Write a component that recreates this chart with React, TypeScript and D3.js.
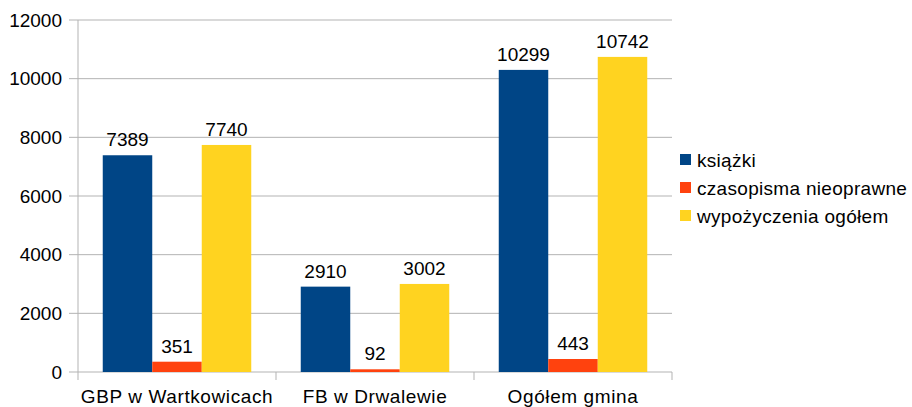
import { useEffect, useRef } from "react";
import * as d3 from "d3";

const categories = ["GBP w Wartkowicach", "FB w Drwalewie", "Ogółem gmina"];
const seriesNames = ["książki", "czasopisma nieoprawne", "wypożyczenia ogółem"];
const ksiazki = [7389, 2910, 10299];
const czasopisma = [351, 92, 443];
const wypozyczenia = [7740, 3002, 10742];
const yTicks = [0, 2000, 4000, 6000, 8000, 10000, 12000];
const colors = ["#004586", "#ff420e", "#ffd320"];

const App = () => {
  const svgRef = useRef<SVGSVGElement>(null);

  useEffect(() => {
    if (!svgRef.current) return;
    const svg = d3.select(svgRef.current);
    svg.selectAll("*").remove();

    const font = "'Liberation Sans', Arial, sans-serif";
    const left = 78;
    const right = 672;
    const top = 20;
    const bottom = 372;
    const series = [ksiazki, czasopisma, wypozyczenia];

    const y = d3.scaleLinear().domain([0, 12000]).range([bottom, top]);
    const x = d3.scaleBand().domain(categories).range([left, right]);
    const inner = d3
      .scaleBand()
      .domain(seriesNames)
      .range([0, x.bandwidth()])
      .paddingOuter(0.5);

    // gridlines + y labels
    yTicks.forEach((t) => {
      svg
        .append("line")
        .attr("x1", left - 9)
        .attr("x2", right)
        .attr("y1", y(t))
        .attr("y2", y(t))
        .attr("stroke", "#b3b3b3")
        .attr("stroke-width", 1);
      svg
        .append("text")
        .attr("x", left - 16)
        .attr("y", y(t))
        .attr("dy", "0.35em")
        .attr("text-anchor", "end")
        .attr("font-family", font)
        .attr("font-size", 19)
        .attr("fill", "#000")
        .text(t);
    });

    // y axis line
    svg
      .append("line")
      .attr("x1", left)
      .attr("x2", left)
      .attr("y1", top)
      .attr("y2", bottom + 8)
      .attr("stroke", "#b3b3b3");

    // category ticks
    const edges = categories.map((c) => x(c)!).concat([right]);
    edges.forEach((e, i) => {
      if (i === 0) return;
      svg
        .append("line")
        .attr("x1", e)
        .attr("x2", e)
        .attr("y1", bottom)
        .attr("y2", bottom + 8)
        .attr("stroke", "#b3b3b3");
    });

    // bars
    categories.forEach((c, ci) => {
      series.forEach((s, si) => {
        const bx = x(c)! + inner(seriesNames[si])!;
        const v = s[ci];
        svg
          .append("rect")
          .attr("x", bx)
          .attr("y", y(v))
          .attr("width", inner.bandwidth())
          .attr("height", bottom - y(v))
          .attr("fill", colors[si]);
        svg
          .append("text")
          .attr("x", bx + inner.bandwidth() / 2)
          .attr("y", y(v) - 9)
          .attr("text-anchor", "middle")
          .attr("font-family", font)
          .attr("font-size", 19)
          .attr("fill", "#000")
          .text(v);
      });
      svg
        .append("text")
        .attr("x", x(c)! + x.bandwidth() / 2)
        .attr("y", 403)
        .attr("text-anchor", "middle")
        .attr("font-family", font)
        .attr("font-size", 19)
        .attr("letter-spacing", 0.6)
        .attr("fill", "#000")
        .text(c);
    });

    // legend
    seriesNames.forEach((n, i) => {
      const ly = 160 + i * 28;
      svg
        .append("rect")
        .attr("x", 680)
        .attr("y", ly - 6)
        .attr("width", 11)
        .attr("height", 11)
        .attr("fill", colors[i]);
      svg
        .append("text")
        .attr("x", 697)
        .attr("y", ly)
        .attr("dy", "0.35em")
        .attr("font-family", font)
        .attr("font-size", 19)
        .attr("letter-spacing", 0.3)
        .attr("fill", "#000")
        .text(n);
    });
  }, []);

  return (
    <svg
      ref={svgRef}
      width={912}
      height={407}
      style={{ position: "absolute", left: 0, top: 0, background: "#fff" }}
    />
  );
};

export default App;
